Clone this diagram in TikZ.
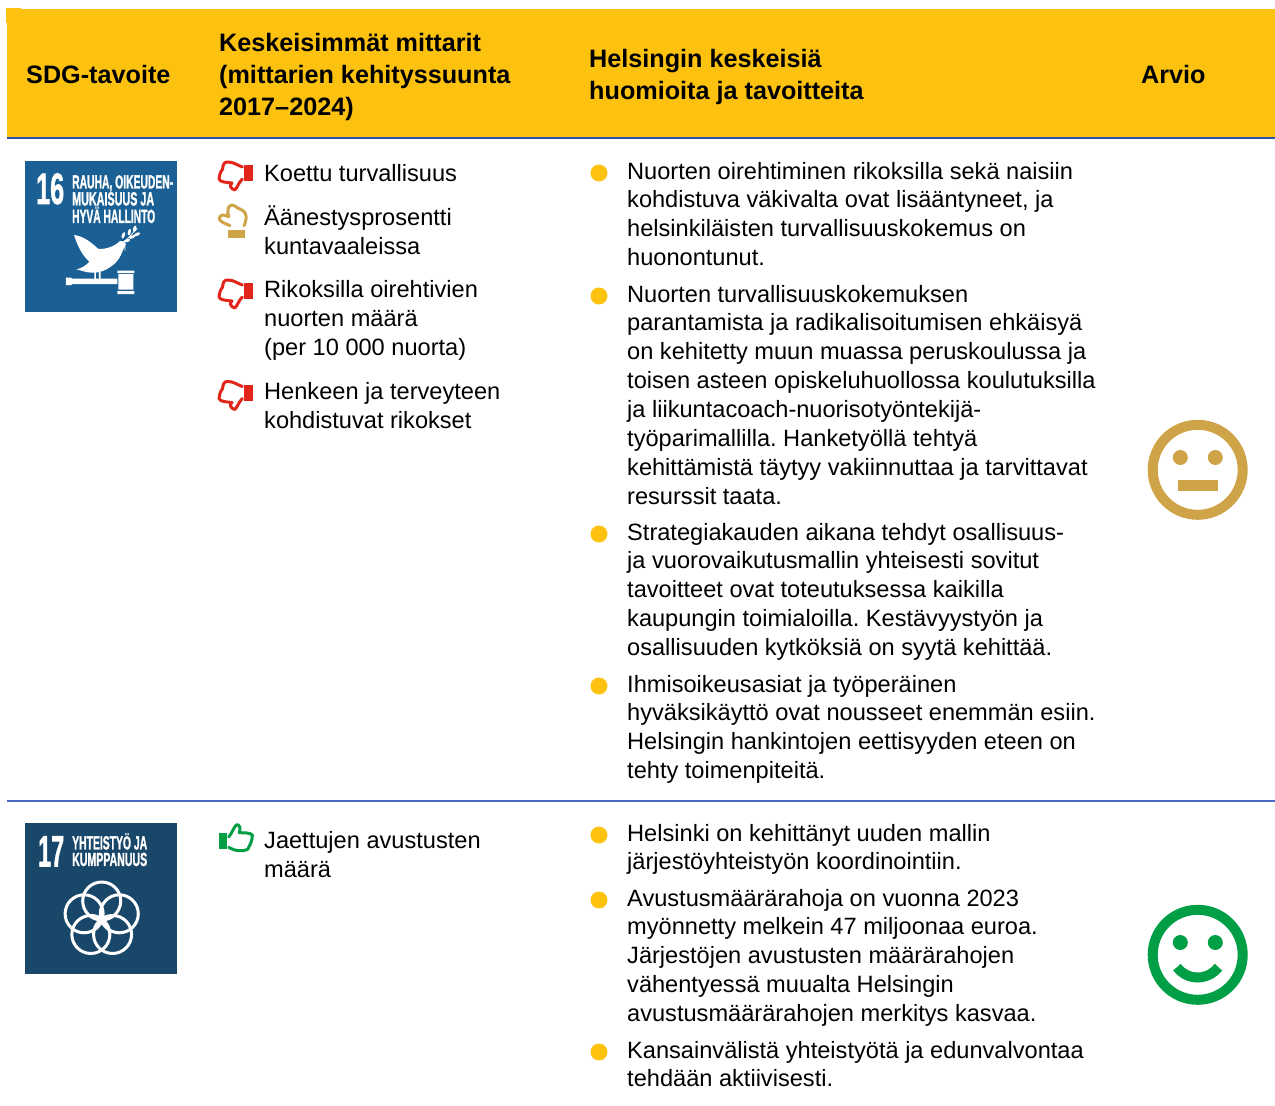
\documentclass[tikz,border=0pt]{standalone}
\usepackage{fontspec}
\usepackage{graphicx}
\setmainfont{Liberation Sans}
\definecolor{headyellow}{HTML}{FDC20F}
\definecolor{ruleblue}{HTML}{2F4FA5}
\definecolor{sepblue}{HTML}{4A6AC8}
\definecolor{sdgsixteen}{HTML}{1A6094}
\definecolor{sdgseventeen}{HTML}{19476A}
\definecolor{ratered}{HTML}{E1251B}
\definecolor{rategold}{HTML}{CFA348}
\definecolor{rategreen}{HTML}{009F45}
\tikzset{
  headtext/.style={anchor=north west,inner sep=0pt,align=left,font=\fontsize{25.2}{32}\selectfont\bfseries,execute at begin node=\strut},
  bodytext/.style={anchor=north west,inner sep=0pt,align=left,font=\fontsize{23.6}{28.9}\selectfont\frenchspacing,execute at begin node=\strut},
  bulletdot/.style={circle,fill=headyellow,minimum size=17pt,inner sep=0pt},
  sdgtext/.style={anchor=north west,inner sep=0pt,text=white,font=\fontsize{19}{19}\selectfont\bfseries\addfontfeature{FakeBold=1.5}},
  sdgnum/.style={anchor=north west,inner sep=0pt,text=white,font=\fontsize{44}{44}\selectfont\bfseries\addfontfeature{FakeBold=1.5}},
  iconline/.style={line width=3pt,line join=round,line cap=round},
}
\newcommand{\squeeze}[2]{\resizebox{#1pt}{\height}{#2}}
\newcommand{\thumbdown}[2]{%
  \begin{scope}[shift={(#1,#2)},x=0.33333pt,y=-0.33333pt]
    \fill[ratered] (101,30) rectangle (128,78);
    \draw[ratered,iconline] (97,36) .. controls (80,30) and (70,20) .. (50,21) .. controls (40,22) and (38,35) .. (38,42) .. controls (30,52) and (28,62) .. (27,72) .. controls (30,82) and (50,82) .. (66,84) .. controls (58,90) and (60,100) .. (74,105) .. controls (82,100) and (84,85) .. (97,72);
  \end{scope}}
\begin{document}
\begin{tikzpicture}[x=1pt,y=-1pt]
\useasboundingbox (0,0) rectangle (1275,1106);
% header band
\fill[headyellow] (7,9) rectangle (1275,136.5);
\fill[headyellow] (6,8) rectangle (21,23);
\fill[ruleblue] (7,136.5) rectangle (1275,139);
\fill[sepblue] (7,800.3) rectangle (1275,801.7);
\node[headtext] (h1) at (26,60.7) {SDG-tavoite};
\node[headtext] (h2) at (219,32.7) {Keskeisimmät mittarit\\(mittarien kehityssuunta\\2017–2024)};
\node[headtext] (h3) at (589,48.7) {Helsingin keskeisiä\\huomioita ja tavoitteita};
\node[headtext] (h4) at (1141,60.7) {Arvio};
% SDG 16
\fill[sdgsixteen] (25,161) rectangle (177,312);
\node[sdgnum] (s16) at (36,173) {\squeeze{28}{16}};
\node[sdgtext] (s16a) at (72,175) {\squeeze{101}{RAUHA, OIKEUDEN-}};
\node[sdgtext] (s16b) at (72,192) {\squeeze{82}{MUKAISUUS JA}};
\node[sdgtext] (s16c) at (72,206.5) {\squeeze{83}{HYVÄ HALLINTO}};
\begin{scope}[x=0.33333pt,y=-0.33333pt]
  \fill[white] (222,705) .. controls (250,708) and (275,728) .. (295,747) .. controls (320,748) and (345,738) .. (360,723) .. controls (368,720) and (376,726) .. (378,733) .. controls (368,745) and (366,770) .. (345,790) .. controls (325,808) and (300,820) .. (275,818) .. controls (260,818) and (245,812) .. (230,808) .. controls (245,805) and (260,795) .. (268,785) .. controls (245,765) and (232,735) .. (222,705) -- cycle;
  \draw[white,line width=0.8pt] (375,752) -- (374,725) -- (412,685);
  \foreach \lx/\ly/\lr in {370/706/70,388/696/75,404/686/70,396/711/20,411/703/25,381/722/15}
    \fill[white] (\lx,\ly) ellipse[x radius=10,y radius=4.5,rotate=\lr];
  \fill[white] (283,815) rectangle (288,838) (297,815) rectangle (302,838);
  \fill[white] (198,833) rectangle (215,855) (215,836) rectangle (352,852);
  \fill[white] (352,812) rectangle (403,819) (355,822) rectangle (400,869) (352,873) rectangle (403,882);
\end{scope}
% SDG 17
\fill[sdgseventeen] (25,823) rectangle (177,974);
\node[sdgnum] (s17) at (38,836) {\squeeze{26}{17}};
\node[sdgtext] (s17a) at (72,833) {\squeeze{75}{YHTEISTYÖ JA}};
\node[sdgtext] (s17b) at (72,852.5) {\squeeze{75}{KUMPPANUUS}};
\foreach \a in {0,72,144,216,288}
  \draw[white,line width=3pt] (101.7,919.5) ++(\a-90:18.5) circle (19);
% thumbs
\thumbdown{210}{155}
\thumbdown{210}{273}
\thumbdown{210}{374.5}
\begin{scope}[shift={(210,155)},x=0.33333pt,y=-0.33333pt]
  \fill[rategold] (55,224) rectangle (105,248);
  \draw[rategold,iconline] (60,212) .. controls (45,205) and (28,200) .. (28,190) .. controls (28,178) and (45,178) .. (56,185) .. controls (52,170) and (52,152) .. (65,150) .. controls (75,150) and (80,160) .. (92,163) .. controls (105,168) and (110,180) .. (108,192) .. controls (108,200) and (104,206) .. (102,212);
\end{scope}
\begin{scope}[shift={(210,815)},x=0.33333pt,y=-0.33333pt]
  \fill[rategreen] (26,55) rectangle (51,101);
  \draw[rategreen,iconline] (56,66) .. controls (66,55) and (72,35) .. (80,29) .. controls (90,28) and (92,42) .. (88,53) .. controls (100,54) and (120,52) .. (127,60) .. controls (128,75) and (120,90) .. (113,103) .. controls (100,110) and (75,108) .. (62,100) -- (56,97);
\end{scope}
% left column
\node[bodytext] (m1) at (264,160.7) {Koettu turvallisuus};
\node[bodytext] (m2) at (264,205.7) {Äänestysprosentti\\kuntavaaleissa};
\node[bodytext] (m3) at (264,280.2) {Rikoksilla oirehtivien\\nuorten määrä\\(per 10 000 nuorta)};
\node[bodytext] (m4) at (264,382.2) {Henkeen ja terveyteen\\kohdistuvat rikokset};
\node[bodytext] (m5) at (264,831.2) {Jaettujen avustusten\\määrä};
% bullets
\foreach \n/\y in {a/173,b/296,c/534,d/686,e/835,f/900,g/1052}
  \node[bulletdot] (dot\n) at (599,\y) {};
\node[bodytext] (t1) at (627,161.7) {Nuorten oirehtiminen rikoksilla sekä naisiin\\kohdistuva väkivalta ovat lisääntyneet, ja\\helsinkiläisten turvallisuuskokemus on\\huonontunut.};
\node[bodytext] (t2) at (627,284.7) {Nuorten turvallisuuskokemuksen\\parantamista ja radikalisoitumisen ehkäisyä\\on kehitetty muun muassa peruskoulussa ja\\toisen asteen opiskeluhuollossa koulutuksilla\\ja liikuntacoach-nuorisotyöntekijä-\\työparimallilla. Hanketyöllä tehtyä\\kehittämistä täytyy vakiinnuttaa ja tarvittavat\\resurssit taata.};
\node[bodytext] (t3) at (627,522.7) {Strategiakauden aikana tehdyt osallisuus-\\ja vuorovaikutusmallin yhteisesti sovitut\\tavoitteet ovat toteutuksessa kaikilla\\kaupungin toimialoilla. Kestävyystyön ja\\osallisuuden kytköksiä on syytä kehittää.};
\node[bodytext] (t4) at (627,674.7) {Ihmisoikeusasiat ja työperäinen\\hyväksikäyttö ovat nousseet enemmän esiin.\\Helsingin hankintojen eettisyyden eteen on\\tehty toimenpiteitä.};
\node[bodytext] (t5) at (627,823.7) {Helsinki on kehittänyt uuden mallin\\järjestöyhteistyön koordinointiin.};
\node[bodytext] (t6) at (627,888.7) {Avustusmäärärahoja on vuonna 2023\\myönnetty melkein 47 miljoonaa euroa.\\Järjestöjen avustusten määrärahojen\\vähentyessä muualta Helsingin\\avustusmäärärahojen merkitys kasvaa.};
\node[bodytext] (t7) at (627,1040.7) {Kansainvälistä yhteistyötä ja edunvalvontaa\\tehdään aktiivisesti.};
% neutral face
\draw[rategold,line width=10pt] (1197.7,469.8) circle (45);
\fill[rategold] (1180.3,457.5) circle (7.5) (1215.3,457.5) circle (7.5);
\fill[rategold] (1177.7,479.8) rectangle (1217.7,490.5);
% happy face
\draw[rategreen,line width=10pt] (1197.7,954.8) circle (45);
\fill[rategreen] (1180.3,942.5) circle (7.5) (1215.3,942.5) circle (7.5);
\draw[rategreen,line width=10pt] (1197.7,951.5) ++(143:26) arc (143:37:26);
\end{tikzpicture}
\end{document}
